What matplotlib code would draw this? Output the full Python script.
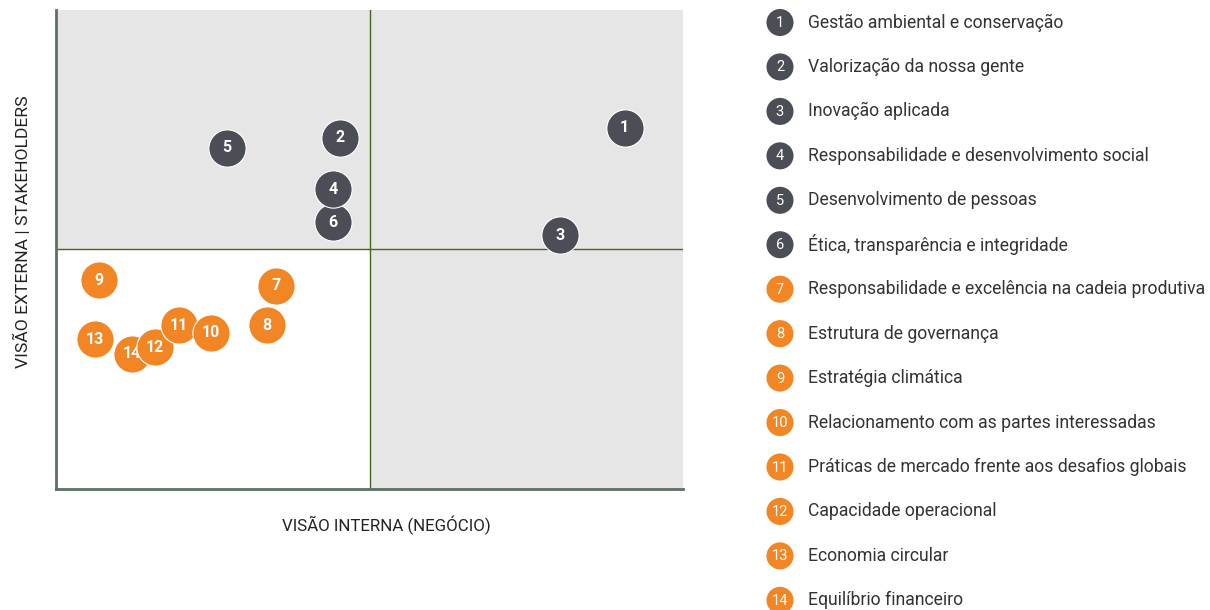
import matplotlib
matplotlib.use("Agg")
import matplotlib.pyplot as plt
from matplotlib.patches import Rectangle

plt.rcParams['font.family'] = ['Roboto', 'DejaVu Sans']

# ---- data ----
ids = [1, 2, 3, 4, 5, 6, 7, 8, 9, 10, 11, 12, 13, 14]
labels = [
    "Gestão ambiental e conservação",
    "Valorização da nossa gente",
    "Inovação aplicada",
    "Responsabilidade e desenvolvimento social",
    "Desenvolvimento de pessoas",
    "Ética, transparência e integridade",
    "Responsabilidade e excelência na cadeia produtiva",
    "Estrutura de governança",
    "Estratégia climática",
    "Relacionamento com as partes interessadas",
    "Práticas de mercado frente aos desafios globais",
    "Capacidade operacional",
    "Economia circular",
    "Equilíbrio financeiro",
]
x_internal = [9.07, 4.53, 8.04, 4.42, 2.73, 4.42, 3.51, 3.37, 0.69, 2.47, 1.96, 1.58, 0.62, 1.21]
y_external = [7.54, 7.33, 5.30, 6.26, 7.12, 5.57, 4.24, 3.42, 4.36, 3.26, 3.42, 2.96, 3.13, 2.82]
group = ["top"] * 6 + ["other"] * 8

x_label = "VISÃO INTERNA (NEGÓCIO)"
y_label = "VISÃO EXTERNA | STAKEHOLDERS"

colors = {"top": "#4b4e56", "other": "#f28524"}

W, H = 1210, 610
fig = plt.figure(figsize=(W / 100, H / 100), dpi=100)

ax = fig.add_axes([56 / W, (H - 489) / H, (683 - 56) / W, (489 - 10) / H])
ax.set_xlim(0, 10)
ax.set_ylim(0, 10)

gray = "#e6e6e6"
ax.add_patch(Rectangle((0, 5), 5, 5, color=gray, zorder=0, lw=0))
ax.add_patch(Rectangle((5, 5), 5, 5, color=gray, zorder=0, lw=0))
ax.add_patch(Rectangle((5, 0), 5, 5, color=gray, zorder=0, lw=0))
ax.axvline(5, color="#4a6320", lw=1, zorder=1)
ax.axhline(5, color="#4a6320", lw=1, zorder=1)

for s in ["top", "right"]:
    ax.spines[s].set_visible(False)
for s in ["left", "bottom"]:
    ax.spines[s].set_color("#5d7163")
    ax.spines[s].set_linewidth(2)
ax.set_xticks([])
ax.set_yticks([])

# draw in reverse so lower numbers sit on top
for k in reversed(range(len(ids))):
    ax.scatter(x_internal[k], y_external[k], s=720, color=colors[group[k]],
               edgecolor="white", linewidth=0.8, zorder=3 + (len(ids) - k) * 0.01,
               clip_on=False)
    ax.text(x_internal[k], y_external[k], str(ids[k]), color="white",
            fontsize=11.5, fontweight="bold", ha="center", va="center",
            zorder=3 + (len(ids) - k) * 0.01 + 0.005)

# axis titles placed in figure pixel coordinates
fig.text(386 / W, 1 - 525 / H, x_label, fontsize=12.2, color="#222222",
         ha="center", va="center")
fig.text(22 / W, 1 - 232 / H, y_label, fontsize=12.6, color="#222222",
         ha="center", va="center", rotation=90)

# ---- legend ----
lax = fig.add_axes([0, 0, 1, 1])
lax.set_xlim(0, W)
lax.set_ylim(H, 0)
lax.axis("off")
y0, dy = 22.5, 44.45
for k in range(len(ids)):
    yy = y0 + dy * k
    lax.scatter(780, yy, s=380, color=colors[group[k]], edgecolor="none", clip_on=False)
    lax.text(780, yy + 0.5, str(ids[k]), color="white", fontsize=10.5,
             ha="center", va="center")
    lax.text(808, yy, labels[k], color="#333333", fontsize=12.7,
             ha="left", va="center")

fig.savefig("out.png", dpi=100)
